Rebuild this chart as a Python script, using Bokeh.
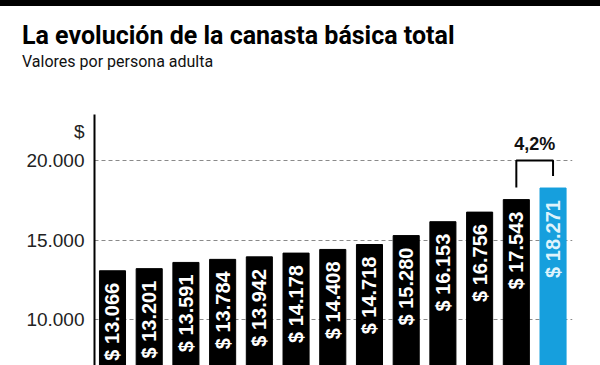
import numpy as np
from bokeh.plotting import figure
from bokeh.layouts import column
from bokeh.models import FixedTicker, Range1d, ColumnDataSource, Div
from bokeh.core.properties import value
from bokeh.embed import file_html
from bokeh.resources import INLINE

# ---- data ----
values = [13066, 13201, 13591, 13784, 13942, 14178, 14408, 14718,
          15280, 16153, 16756, 17543, 18271]
tick_values = [10000, 15000, 20000]
tick_labels = ["10.000", "15.000", "20.000"]
unit_label = "$"
change_label = "4,2%"
title_text = "La evolución de la canasta básica total"
subtitle_text = "Valores por persona adulta"

BLACK = "#000000"
BLUE = "#169fdd"

n = len(values)
xs = list(range(n))
bar_colors = [BLACK] * (n - 1) + [BLUE]
label_colors = ["#ffffff"] * (n - 1) + ["#dff3fc"]
labels = ["$ " + f"{v:,}".replace(",", ".") for v in values]

# ---- header (title + subtitle) ----
head_html = (
    '<div style="padding:17px 0 0 22px;margin:0;font-family:Roboto;'
    'font-weight:bold;font-size:25px;line-height:25px;color:#000000;'
    'white-space:nowrap">' + title_text + '</div>'
    '<div style="padding:5.6px 0 0 22px;margin:0;font-family:Roboto;'
    'font-weight:normal;font-size:16px;line-height:16px;color:#111111;'
    'white-space:nowrap">' + subtitle_text + '</div>'
)
head = Div(text=head_html, width=600, height=108, margin=0)

# ---- main chart ----
px = 62.9  # data units per pixel (vertical)
pad = 12 * px
unit_pos = tick_values[-1] + 29 * px

p = figure(width=600, height=251,
           x_range=Range1d(-0.49, 12.53), y_range=Range1d(7108, 22896),
           output_backend="svg", toolbar_location=None,
           x_axis_location=None, y_axis_location="left",
           min_border_left=94, min_border_right=28, min_border_bottom=0,
           min_border_top=0)

p.outline_line_color = None
p.background_fill_color = "white"
p.border_fill_color = "white"

ax = p.yaxis[0]
ax.ticker = FixedTicker(ticks=tick_values + [unit_pos])
overrides = {t: l for t, l in zip(tick_values, tick_labels)}
overrides[unit_pos] = unit_label
ax.major_label_overrides = overrides
ax.major_tick_line_color = None
ax.minor_tick_line_color = None
ax.axis_line_color = "#000000"
ax.axis_line_width = 2
ax.major_label_text_font = "Liberation Sans"
ax.major_label_text_font_size = "19px"
ax.major_label_text_color = "#222222"
ax.major_label_standoff = 4

p.xgrid.visible = False
p.ygrid.ticker = FixedTicker(ticks=tick_values)
p.ygrid.grid_line_color = "#8a8a8a"
p.ygrid.grid_line_dash = "4 3"
p.ygrid.grid_line_width = 1

src = ColumnDataSource(dict(x=xs, top=values, color=bar_colors,
                            label=labels, lcolor=label_colors,
                            ly=[v - pad for v in values]))
p.vbar(x="x", top="top", bottom=0, width=0.71, color="color", source=src)
p.text(x="x", y="ly", text="label", angle=np.pi / 2, text_align="right",
       text_baseline="middle", text_color="lcolor", source=src,
       text_font=value("Liberation Sans"), text_font_style="bold",
       text_font_size="20px")

# bracket between last two bars
top_line = tick_values[-1]
p.line(x=[n - 2, n - 2, n - 1, n - 1],
       y=[values[-2] + pad, top_line, top_line, values[-1] + pad],
       line_color="black", line_width=2)
p.text(x=[n - 1.5], y=[top_line + 17 * px], text=[change_label],
       text_align="center", text_baseline="middle", text_color="#111111",
       text_font=value("Liberation Sans"), text_font_style="bold",
       text_font_size="18px")

band = Div(text="", width=600, height=6, margin=0,
           styles={"background-color": "#000000"})
layout = column(band, head, p, spacing=0)

open("out.html", "w").write(file_html(layout, INLINE))
